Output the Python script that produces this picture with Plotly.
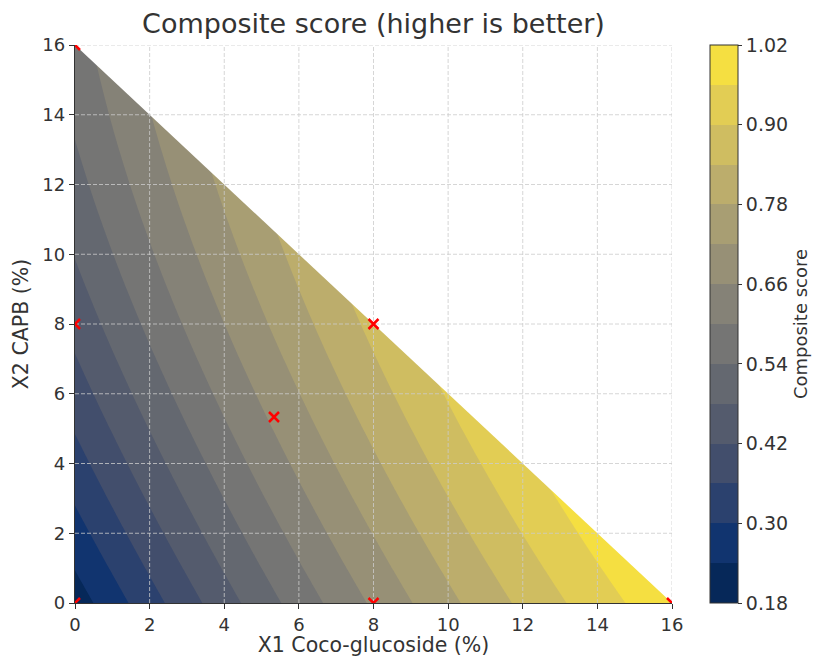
import numpy as np
import plotly.graph_objects as go
from plotly.colors import sample_colorscale

# ---------------- data ----------------
TOTAL = 16.0  # X1 + X2 + X3 = 16 %
design_x1 = [0.0, 16.0, 0.0, 8.0, 0.0, 8.0, 16.0 / 3]
design_x2 = [0.0, 0.0, 16.0, 0.0, 8.0, 8.0, 16.0 / 3]
design_score = [0.208, 1.004, 0.575, 0.669, 0.440, 0.856, 0.670]

level_start = 0.18
level_end = 1.02
level_step = 0.06

x_ticks = [0, 2, 4, 6, 8, 10, 12, 14, 16]
y_ticks = [0, 2, 4, 6, 8, 10, 12, 14, 16]
cbar_ticks = [0.18, 0.30, 0.42, 0.54, 0.66, 0.78, 0.90, 1.02]

# ---------------- Scheffe special-cubic mixture model fitted to the design points ----------------
def terms(x1, x2):
    s1 = np.asarray(x1, float) / TOTAL
    s2 = np.asarray(x2, float) / TOTAL
    s3 = 1.0 - s1 - s2
    return np.stack([s1, s2, s3, s1 * s2, s1 * s3, s2 * s3, s1 * s2 * s3], axis=-1)

A = terms(design_x1, design_x2)
coef, *_ = np.linalg.lstsq(A, np.array(design_score), rcond=None)

gx = np.linspace(0, TOTAL, 321)
gy = np.linspace(0, TOTAL, 321)
GX, GY = np.meshgrid(gx, gy)
Z = terms(GX, GY) @ coef

# colour bands like matplotlib contourf (cividis at band midpoints)
n_bands = int(round((level_end - level_start) / level_step))
band_colors = [sample_colorscale("Cividis", [(k + 0.5) / n_bands])[0] for k in range(n_bands)]

# plotly maps contour fills over [start - size/2, end + size/2]; band k uses its midpoint
contour_scale = [[0.0, band_colors[0]]]
for k in range(n_bands):
    contour_scale.append([(k + 1) / (n_bands + 1), band_colors[k]])
contour_scale.append([1.0, band_colors[-1]])

# stepped scale for the discrete colour bar
step_scale = []
for k in range(n_bands):
    step_scale.append([k / n_bands, band_colors[k]])
    step_scale.append([(k + 1) / n_bands, band_colors[k]])

TXT = "#333333"
fig = go.Figure()

fig.add_trace(go.Contour(
    x=gx, y=gy, z=Z,
    autocontour=False,
    contours=dict(start=level_start, end=level_end, size=level_step,
                  coloring="fill", showlines=False),
    line=dict(width=0),
    colorscale=contour_scale,
    showscale=False,
    hoverinfo="skip",
))

# white mask for the infeasible region X1 + X2 > TOTAL
fig.add_trace(go.Scatter(
    x=[0, TOTAL, TOTAL, 0], y=[TOTAL, TOTAL, 0, TOTAL],
    mode="lines", fill="toself", fillcolor="white",
    line=dict(width=0, color="white"), hoverinfo="skip", showlegend=False,
))

# dashed grid drawn above the filled contours
gxs, gys = [], []
for t in x_ticks[1:]:
    gxs += [t, t, None]
    gys += [y_ticks[0], y_ticks[-1], None]
for t in y_ticks[1:]:
    gxs += [x_ticks[0], x_ticks[-1], None]
    gys += [t, t, None]
fig.add_trace(go.Scatter(
    x=gxs, y=gys, mode="lines",
    line=dict(color="#cccccc", width=0.8, dash="4px,2px"),
    hoverinfo="skip", showlegend=False,
))

# design points
fig.add_trace(go.Scatter(
    x=design_x1, y=design_x2, mode="markers",
    marker=dict(symbol="x-thin", size=10, color="red",
                line=dict(color="red", width=2.5)),
    showlegend=False,
))

# colour bar (discrete bands 0.18 .. 1.02)
fig.add_trace(go.Scatter(
    x=[None], y=[None], mode="markers", hoverinfo="skip", showlegend=False,
    marker=dict(
        color=[level_start], cmin=level_start, cmax=level_end,
        colorscale=step_scale, showscale=True, size=0,
        colorbar=dict(
            x=(710 - 75) / 597, xanchor="left", xref="paper", xpad=0, ypad=0,
            y=0.5, yanchor="middle", len=1, lenmode="fraction",
            thickness=28, thicknessmode="pixels",
            outlinewidth=1, outlinecolor=TXT,
            tickmode="array", tickvals=cbar_ticks,
            ticktext=[f"{v:.2f}" for v in cbar_ticks],
            ticks="outside", ticklen=4, tickwidth=1, tickcolor=TXT,
            tickfont=dict(size=19, color=TXT),
            title=dict(text="Composite score", side="right", font=dict(size=18, color=TXT)),
        ),
    ),
))

axis_common = dict(
    range=[0, TOTAL], showgrid=False, zeroline=False, automargin=False,
    showline=True, linecolor=TXT, linewidth=1.3,
    ticks="outside", ticklen=5, tickwidth=1.2, tickcolor=TXT,
    tickfont=dict(size=18, color=TXT),
)
fig.update_xaxes(**axis_common, tickvals=x_ticks,
                 title=dict(text="X1 Coco-glucoside (%)", font=dict(size=20.5, color=TXT), standoff=3))
fig.update_yaxes(**axis_common, tickvals=y_ticks,
                 title=dict(text="X2 CAPB (%)", font=dict(size=20.5, color=TXT), standoff=8))

fig.update_layout(
    width=818, height=657,
    margin=dict(l=75, r=146, t=45, b=54, autoexpand=False),
    plot_bgcolor="white", paper_bgcolor="white",
    font=dict(family="DejaVu Sans", color=TXT),
    title=dict(text="Composite score (higher is better)", x=0.5, xref="paper",
               xanchor="center", y=1 - 24 / 657, yref="container", yanchor="middle",
               font=dict(size=27, color=TXT)),
    showlegend=False,
)

fig.write_html(
    "out.html",
    config={"displayModeBar": False},
    post_script="document.body.style.margin='0px';document.body.style.overflow='hidden';",
)
